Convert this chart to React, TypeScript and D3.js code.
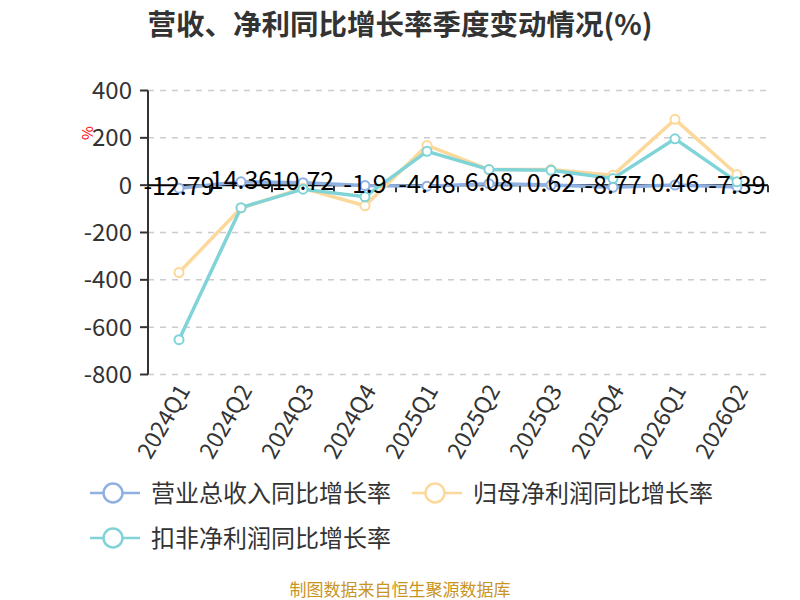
import React from "react";
import * as d3 from "d3";

const categories = ["2024Q1", "2024Q2", "2024Q3", "2024Q4", "2025Q1", "2025Q2", "2025Q3", "2025Q4", "2026Q1", "2026Q2"];
const revenueGrowth = [-12.79, 14.36, 10.72, -1.9, -4.48, 6.08, 0.62, -8.77, 0.46, -7.39];
const netProfitGrowth = [-369, -97, -13, -87, 168, 66, 66, 42, 278, 45];
const deductedProfitGrowth = [-653, -95, -17, -49, 143, 66, 63, 28, 196, 14];
const yTicks = [400, 200, 0, -200, -400, -600, -800];
const seriesNames = ["营业总收入同比增长率", "归母净利润同比增长率", "扣非净利润同比增长率"];
const colors = ["#8fb0e0", "#fdd89b", "#80d4d8"];

const FONT = "'Microsoft YaHei', 'Noto Sans CJK SC', sans-serif";

export default function App() {
  const W = 800, H = 600;
  const left = 148, right = 768, top = 90.5, bottom = 374.5;
  const x = d3.scaleBand<string>().domain(categories).range([left, right]);
  const y = d3.scaleLinear().domain([-800, 400]).range([bottom, top]);
  const cx = (c: string) => (x(c) as number) + x.bandwidth() / 2;
  const line = d3.line<number>().x((_, i) => cx(categories[i])).y((v) => y(v));
  const series = [revenueGrowth, netProfitGrowth, deductedProfitGrowth];
  const drawOrder = [0, 1, 2];
  const y0 = y(0);
  const boundaries = [...categories.map((c) => x(c) as number), right];

  return (
    <svg width={W} height={H} style={{ position: "absolute", left: 0, top: 0 }} fontFamily={FONT}>
      <rect width={W} height={H} fill="#fff" />
      <text x={400} y={35} textAnchor="middle" fontSize={28.5} fontWeight="bold" fill="#333">
        营收、净利同比增长率季度变动情况(%)
      </text>
      {/* grid */}
      {yTicks.map((t) => (
        <line key={t} x1={left} x2={right} y1={y(t)} y2={y(t)} stroke="#ccc" strokeWidth={1.5} strokeDasharray="6,6" />
      ))}
      {/* y axis */}
      <line x1={left} x2={left} y1={top} y2={bottom} stroke="#333" strokeWidth={2} />
      {yTicks.map((t) => (
        <g key={"yt" + t}>
          <line x1={left - 8} x2={left} y1={y(t)} y2={y(t)} stroke="#333" strokeWidth={2} />
          <text x={132} y={y(t)} dy="0.36em" textAnchor="end" fontSize={24} fill="#333">
            {t}
          </text>
        </g>
      ))}
      <text transform={`translate(88,133) rotate(-90)`} textAnchor="middle" dy="0.35em" fontSize={15} fill="red">
        %
      </text>
      {/* x axis at zero */}
      <line x1={left} x2={right} y1={y0} y2={y0} stroke="#000" strokeWidth={2} />
      {boundaries.map((b, i) => (
        <line key={"xt" + i} x1={b} x2={b} y1={y0} y2={y0 + 7} stroke="#333" strokeWidth={2} />
      ))}
      {/* series */}
      {drawOrder.map((si) => (
        <g key={"s" + si}>
          <path d={line(series[si]) as string} fill="none" stroke={colors[si]} strokeWidth={3.5} />
          {series[si].map((v, i) => (
            <circle key={i} cx={cx(categories[i])} cy={y(v)} r={4.5} fill="#fff" stroke={colors[si]} strokeWidth={2} />
          ))}
        </g>
      ))}
      {/* revenue labels */}
      {revenueGrowth.map((v, i) => (
        <text key={"lb" + i} x={cx(categories[i])} y={y(v) - 2} dy="0.36em" textAnchor="middle" fontSize={25} fill="#000">
          {v}
        </text>
      ))}
      {/* x labels */}
      {categories.map((c) => (
        <text
          key={"xl" + c}
          transform={`translate(${cx(c) + 5},${bottom + 12}) rotate(-60)`}
          textAnchor="end"
          dy="0.35em"
          fontSize={23}
          fill="#333"
        >
          {c}
        </text>
      ))}
      {/* legend */}
      {[
        { i: 0, lx: 90, ly: 493 },
        { i: 1, lx: 412, ly: 493 },
        { i: 2, lx: 90, ly: 538 },
      ].map(({ i, lx, ly }) => (
        <g key={"lg" + i}>
          <line x1={lx} x2={lx + 50} y1={ly} y2={ly} stroke={colors[i]} strokeWidth={2.5} />
          <circle cx={lx + 23} cy={ly} r={9.5} fill="#fff" stroke={colors[i]} strokeWidth={2.5} />
          <text x={lx + 61} y={ly} dy="0.36em" fontSize={24} fill="#333">
            {seriesNames[i]}
          </text>
        </g>
      ))}
      <text x={400} y={590} textAnchor="middle" dy="0.36em" fontSize={17} fill="#c9951f">
        制图数据来自恒生聚源数据库
      </text>
    </svg>
  );
}
